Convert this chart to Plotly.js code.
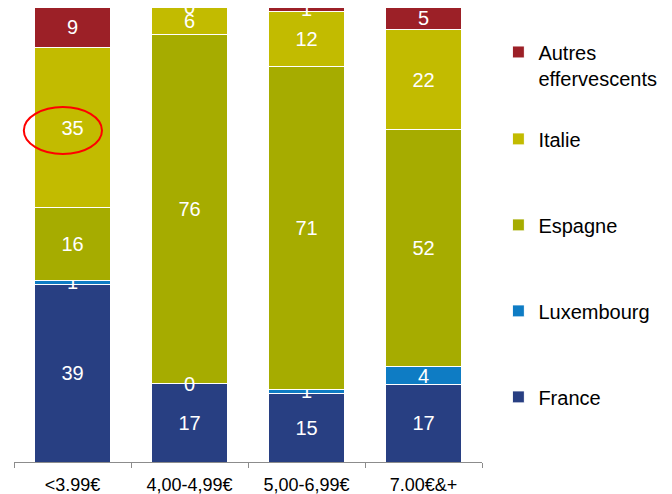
<!DOCTYPE html>
<html>
<head>
<meta charset="utf-8">
<script src="https://cdn.plot.ly/plotly-3.0.1.min.js"></script>
<style>html,body{margin:0;padding:0;background:#fff;}#chart{width:672px;height:494px;}</style>
</head>
<body>
<div id="chart"></div>
<script>
const categories = ["<3.99€", "4,00-4,99€", "5,00-6,99€", "7.00€&+"];
const france = [39, 17, 15, 17];
const luxembourg = [1, 0, 1, 4];
const espagne = [16, 76, 71, 52];
const italie = [35, 6, 12, 22];
const autres = [9, 0, 1, 5];

const seriesNames = ["France", "Luxembourg", "Espagne", "Italie", "Autres<br>effervescents"];
const seriesValues = [france, luxembourg, espagne, italie, autres];
const seriesColors = ["#283F82", "#0E7CC4", "#A6AC00", "#C2BB00", "#9C2027"];

const FONT = "Arial, Liberation Sans, sans-serif";

const traces = seriesValues.map((vals, i) => ({
  type: "bar",
  name: seriesNames[i],
  x: categories,
  y: vals,
  text: vals.map(String),
  textposition: "inside",
  insidetextanchor: "middle",
  textangle: 0,
  constraintext: "none",
  textfont: {family: FONT, size: 20, color: "#ffffff"},
  marker: {color: seriesColors[i], line: {color: "#ffffff", width: 1}},
  legendgroup: "g" + i,
  legendrank: (seriesValues.length - i) * 10,
  legend: i === seriesValues.length - 1 ? "legend2" : "legend",
  hoverinfo: "skip"
}));

// Labels for zero-height segments (Plotly does not draw text on empty bars)
const totals = categories.map((c, j) => seriesValues.reduce((s, v) => s + v[j], 0));
const zeroAnnotations = [];
categories.forEach((c, j) => {
  let cum = 0;
  seriesValues.forEach((vals) => {
    if (vals[j] === 0) {
      zeroAnnotations.push({
        x: c, y: cum / totals[j] * 100, xref: "x", yref: "y",
        text: "0", showarrow: false, yanchor: "middle",
        font: {family: FONT, size: 20, color: "#ffffff"}
      });
    }
    cum += vals[j];
  });
});

const legendBase = {
  x: 1.035,
  xanchor: "left",
  yanchor: "top",
  traceorder: "grouped",
  tracegroupgap: 57,
  valign: "top",
  font: {family: FONT, size: 20, color: "#000000"},
  itemwidth: 30,
  bgcolor: "rgba(0,0,0,0)"
};

const layout = {
  width: 672,
  height: 494,
  margin: {l: 14, r: 190, t: 7, b: 32},
  paper_bgcolor: "#ffffff",
  plot_bgcolor: "#ffffff",
  barmode: "stack",
  barnorm: "percent",
  bargap: 0.35,
  showlegend: true,
  font: {family: FONT, color: "#000000"},
  xaxis: {
    showline: true,
    linecolor: "#8c8c8c",
    linewidth: 1,
    ticks: "outside",
    tickson: "boundaries",
    ticklen: 5,
    tickcolor: "#8c8c8c",
    ticklabelstandoff: 6,
    tickfont: {family: FONT, size: 18, color: "#000000"},
    showgrid: false,
    zeroline: false,
    fixedrange: true
  },
  yaxis: {
    range: [0, 100],
    visible: false,
    showgrid: false,
    zeroline: false,
    fixedrange: true
  },
  legend: Object.assign({}, legendBase, {y: 0.753}),
  legend2: Object.assign({}, legendBase, {y: 0.944}),
  annotations: zeroAnnotations,
  shapes: [{
    type: "circle",
    xref: "paper",
    yref: "paper",
    x0: 0.021, x1: 0.188,
    y0: 0.677, y1: 0.780,
    line: {color: "#ff0000", width: 2}
  }]
};

Plotly.newPlot("chart", traces, layout, {displayModeBar: false, staticPlot: true});
</script>
</body>
</html>
